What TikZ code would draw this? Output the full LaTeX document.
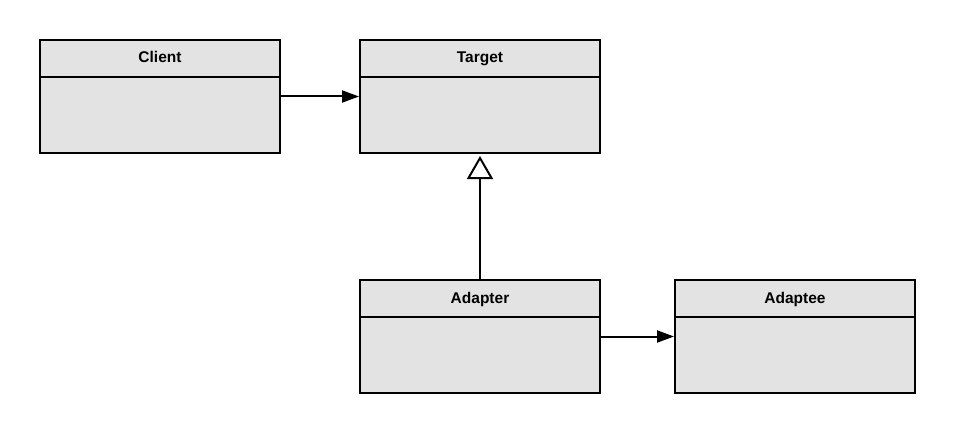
\documentclass[tikz,border=0pt]{standalone}
\usepackage{fontspec}
\setmainfont{Liberation Sans}
\usetikzlibrary{arrows.meta}
\begin{document}
\begin{tikzpicture}[x=1pt,y=-1pt,
  umlbox/.style={draw=black, line width=2pt, fill=black!11, minimum width=240pt, minimum height=113pt, inner sep=0pt},
  umltitle/.style={font=\bfseries\fontsize{15.5}{18}\selectfont, inner sep=0pt, anchor=base},
  assoc/.style={line width=2pt, -{Triangle[width=12pt,length=17pt]}},
  inherit/.style={line width=2pt, -{Triangle[open,width=26pt,length=23pt,fill=white,line width=2pt]}}]
\useasboundingbox (0,0) rectangle (955,433);
\node[umlbox] (client) at (160,96.5) {};
\node[umlbox] (target) at (480,96.5) {};
\node[umlbox] (adapter) at (480,336.5) {};
\node[umlbox] (adaptee) at (795,336.5) {};
\foreach \n/\t in {client/Client,target/Target,adapter/Adapter,adaptee/Adaptee}{
  \draw[line width=2pt] ([yshift=-38pt]\n.north west) -- ([yshift=-38pt]\n.north east);
  \node[umltitle] (\n-title) at ([yshift=-24pt]\n.north) {\t};
}
\draw[assoc] (client.east) -- (target.west);
\draw[assoc] (adapter.east) -- (adaptee.west);
\draw[inherit] (adapter.north) -- ([yshift=-2pt]target.south);
\end{tikzpicture}
\end{document}
